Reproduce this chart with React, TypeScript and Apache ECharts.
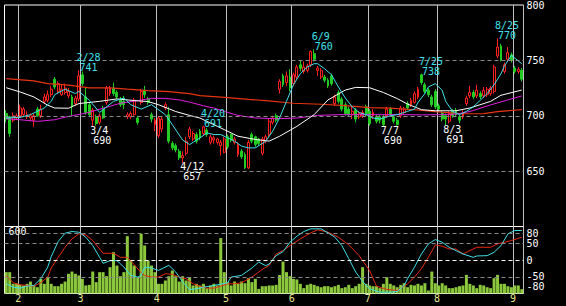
import React, { useEffect, useRef } from 'react';
import * as echarts from 'echarts';

// Trading days per month (2022, Tokyo)
const MONTH_DAYS: [number, number[]][] = [
  [1, [26, 27, 28, 31]],
  [2, [1, 2, 3, 4, 7, 8, 9, 10, 14, 15, 16, 17, 18, 21, 22, 24, 25, 28]],
  [3, [1, 2, 3, 4, 7, 8, 9, 10, 11, 14, 15, 16, 17, 18, 22, 23, 24, 25, 28, 29, 30, 31]],
  [4, [1, 4, 5, 6, 7, 8, 11, 12, 13, 14, 15, 18, 19, 20, 21, 22, 25, 26, 27, 28]],
  [5, [2, 6, 9, 10, 11, 12, 13, 16, 17, 18, 19, 20, 23, 24, 25, 26, 27, 30, 31]],
  [6, [1, 2, 3, 6, 7, 8, 9, 10, 13, 14, 15, 16, 17, 20, 21, 22, 23, 24, 27, 28, 29, 30]],
  [7, [1, 4, 5, 6, 7, 8, 11, 12, 13, 14, 15, 19, 20, 21, 22, 25, 26, 27, 28, 29]],
  [8, [1, 2, 3, 4, 5, 8, 9, 10, 12, 15, 16, 17, 18, 19, 22, 23, 24, 25, 26, 29, 30, 31]],
  [9, [1, 2, 5]],
];

// [open, close, low, high]
const CANDLES: number[][] = [
  [702, 697, 694, 705], [699, 684, 681, 700], [696, 700, 694, 703], [698, 700, 696, 702],
  [700, 707, 698, 710], [701, 706, 699, 708], [699, 701, 697, 704], [698, 700, 695, 702],
  [696, 700, 690, 702], [706, 700, 699, 708], [700, 706, 698, 710], [713, 717, 711, 720],
  [714, 719, 712, 723], [719, 724, 717, 727], [733, 726, 724, 735], [722, 729, 720, 731],
  [719, 724, 718, 728], [721, 725, 719, 729], [718, 722, 716, 725], [717, 708, 700, 719],
  [711, 716, 709, 718], [715, 736, 713, 741], [737, 729, 727, 740], [717, 703, 701, 726],
  [710, 701, 699, 712], [696, 705, 690, 707], [699, 693, 691, 701], [694, 700, 692, 702],
  [706, 698, 697, 709], [712, 725, 710, 727], [720, 725, 718, 727], [725, 720, 718, 730],
  [721, 717, 715, 723], [715, 710, 708, 717], [713, 710, 706, 718], [699, 701, 697, 703],
  [699, 702, 697, 704], [701, 714, 700, 716], [698, 694, 692, 700], [712, 722, 710, 724],
  [723, 719, 716, 727], [715, 712, 710, 717], [701, 697, 694, 703], [692, 696, 686, 698],
  [682, 698, 680, 700], [688, 697, 685, 699], [707, 710, 705, 712], [701, 677, 675, 708],
  [675, 671, 669, 677], [673, 669, 667, 675], [668, 662, 660, 670], [662, 664, 657, 668],
  [666, 677, 664, 681], [681, 688, 679, 690], [679, 684, 677, 686], [683, 677, 675, 685],
  [686, 680, 678, 688], [684, 690, 682, 691], [687, 683, 681, 689], [676, 681, 674, 683],
  [678, 680, 675, 682], [676, 679, 674, 680], [673, 676, 664, 678], [667, 679, 666, 681],
  [681, 672, 670, 683], [683, 678, 676, 684], [676, 679, 674, 681], [665, 674, 663, 676],
  [668, 663, 661, 670], [665, 653, 652, 667], [653, 676, 652, 678], [683, 677, 675, 685],
  [681, 674, 672, 682], [679, 675, 673, 680], [666, 679, 664, 681], [677, 681, 675, 683],
  [683, 695, 681, 697], [694, 698, 692, 700], [700, 696, 694, 702], [724, 731, 720, 733],
  [736, 728, 726, 738], [730, 736, 727, 740], [735, 725, 722, 742], [729, 737, 727, 739],
  [735, 744, 733, 746], [746, 743, 740, 750], [740, 744, 738, 749], [741, 745, 739, 747],
  [746, 758, 744, 759], [756, 751, 749, 760], [741, 743, 736, 745], [735, 741, 733, 743],
  [735, 732, 730, 737], [732, 727, 725, 734], [736, 729, 727, 738], [711, 717, 709, 719],
  [721, 713, 711, 723], [715, 706, 704, 717], [710, 702, 700, 712], [706, 701, 699, 708],
  [701, 704, 697, 708], [705, 697, 694, 707], [699, 702, 697, 704], [700, 703, 698, 705],
  [708, 702, 699, 710], [704, 693, 691, 706], [700, 703, 697, 706], [699, 695, 693, 701],
  [699, 696, 693, 701], [699, 692, 690, 701], [700, 706, 698, 708], [706, 701, 699, 708],
  [699, 695, 693, 700], [696, 692, 691, 698], [700, 707, 698, 709], [703, 706, 701, 708],
  [711, 707, 705, 713], [710, 714, 708, 716], [712, 720, 711, 722], [717, 724, 715, 726],
  [737, 730, 728, 738], [728, 722, 720, 730], [723, 719, 717, 725], [717, 710, 708, 719],
  [722, 708, 706, 724], [709, 706, 704, 711], [702, 697, 695, 704], [700, 697, 691, 702],
  [695, 702, 693, 704], [704, 700, 698, 706], [705, 701, 699, 707], [699, 696, 693, 701],
  [699, 703, 697, 705], [711, 716, 709, 718], [718, 721, 716, 727], [721, 717, 715, 723],
  [718, 723, 716, 728], [720, 717, 715, 722], [718, 723, 716, 726], [719, 724, 717, 726],
  [720, 725, 718, 727], [722, 744, 720, 746], [754, 762, 752, 770], [763, 750, 749, 765],
  [740, 746, 738, 748], [751, 757, 749, 762], [755, 750, 748, 757], [743, 740, 738, 745],
  [740, 742, 738, 744], [741, 733, 731, 743],
];

const VOLUME: number[] = [
  207, 207, 94, 94, 84, 78, 94, 116, 78, 61, 142, 94, 158, 94, 71, 71, 94, 116, 191, 213,
  191, 175, 142, 78, 84, 213, 110, 207, 207, 168, 255, 401, 271, 168, 207, 556, 320, 271, 158, 579,
  466, 320, 271, 207, 94, 94, 126, 168, 223, 168, 116, 168, 126, 158, 78, 94, 78, 94, 52, 78,
  94, 78, 537, 207, 110, 78, 116, 94, 116, 100, 149, 110, 142, 45, 71, 71, 78, 78, 84, 180,
  310, 207, 168, 142, 136, 94, 52, 84, 94, 84, 71, 61, 71, 71, 61, 71, 84, 52, 61, 84,
  52, 71, 94, 255, 94, 78, 71, 71, 52, 94, 158, 94, 78, 61, 84, 100, 61, 84, 78, 94,
  78, 100, 29, 213, 100, 78, 100, 78, 52, 52, 61, 71, 78, 181, 94, 78, 52, 84, 78, 61,
  52, 149, 181, 94, 94, 71, 61, 78, 78, 42,
];

// Moving averages: [day index, value]
const MA_SHORT: number[][] = [
  [0, 698], [4, 698.5], [7, 701], [11, 707], [13, 713], [14, 719], [17, 724], [20, 720], [21, 722],
  [24, 714], [27, 703], [31, 713], [34, 716], [36, 710], [39, 706], [42, 710], [46, 701], [48, 692],
  [51, 678], [53, 674], [56, 680], [58, 684.5], [60, 683], [62, 683], [64, 680], [66, 677], [68, 672.6],
  [70, 671], [72, 671], [75, 677], [77, 686], [79, 698], [81, 713], [83, 728], [85, 738], [87, 744],
  [89, 747], [90, 747], [92, 742.5], [94, 737], [96, 726], [98, 716], [100, 708], [102, 703], [104, 701],
  [106, 698], [108, 697], [111, 700], [113, 701], [116, 704], [118, 706], [119, 712], [121, 720],
  [122, 726], [124, 729], [126, 723], [127, 713], [129, 704], [131, 701], [133, 704], [135, 708],
  [137, 714], [139, 720], [141, 728], [143, 738], [144, 745], [146, 754.5], [147, 752], [149, 747],
];
const MA_MID: number[][] = [
  [0, 725.3], [4, 721.5], [8, 717], [12, 709.5], [14, 707], [18, 706.8], [21, 711], [27, 713],
  [32, 715.2], [37, 713.7], [41, 712.8], [44, 710], [49, 703.8], [53, 700.3], [56, 697.9], [63, 687.5],
  [67, 681.5], [72, 678.6], [76, 677.1], [79, 681.5], [84, 690.4], [89, 701], [93, 714.3], [98, 723.2],
  [101, 725.6], [105, 725.3], [109, 721], [113, 715.5], [116, 710.5], [120, 705.5], [124, 704.5],
  [130, 704.5], [134, 707], [140, 713], [143, 718.5], [149, 723.2],
];
const MA_LONG: number[][] = [
  [0, 697.3], [4, 696.4], [9, 694.9], [14, 696.4], [18, 699.4], [23, 702.3], [28, 706.8], [33, 711.3],
  [38, 713.7], [42, 715.7], [46, 715.7], [50, 714.3], [53, 712.3], [57, 709], [60, 707], [64, 703],
  [67, 700.3], [72, 698], [78, 697.3], [84, 697.9], [90, 700.3], [96, 701], [102, 701], [108, 701],
  [114, 701], [120, 700.8], [126, 701], [130, 701.5], [134, 703.8], [140, 709.8], [145, 714.3], [149, 717.9],
];
const MA_XLONG: number[][] = [
  [0, 733.6], [8, 731.5], [12, 729], [18, 727.6], [24, 725.2], [30, 725.2], [35, 724], [41, 722.6],
  [47, 721.7], [53, 720], [56, 718.1], [64, 716.3], [70, 714.8], [75, 713.7], [83, 711.3], [91, 710.4],
  [98, 709.2], [105, 707.4], [111, 706.8], [118, 705.4], [124, 703.8], [132, 701.8], [138, 702],
  [142, 703.8], [149, 705.5],
];

// Oscillators (lower panel)
const OSC_FAST: number[][] = [
  [0, -71], [2, -81], [4, -84], [6, -78], [8, -76], [10, -56], [12, -21], [13, 10], [15, 55], [17, 80],
  [19, 85], [21, 83], [23, 68], [25, 43], [27, 8], [28, -10], [30, -2], [32, -2], [34, -21], [36, -46],
  [38, -51], [39, -46], [40, -21], [42, -24], [44, -31], [47, -16], [49, -36], [51, -66], [53, -88],
  [55, -86], [57, -81], [59, -78], [61, -74], [64, -68], [65, -51], [68, -46], [71, -24], [73, -6],
  [75, -17], [76, -12], [78, 13], [80, 25], [82, 53], [84, 71], [86, 85], [88, 93], [91, 93], [93, 81],
  [95, 68], [97, 43], [99, 4], [101, -36], [103, -64], [105, -86], [108, -96], [111, -96], [113, -94],
  [115, -76], [116, -56], [118, -21], [120, 18], [122, 48], [124, 61], [126, 53], [128, 38], [130, 28],
  [132, 18], [135, 8], [136, 12], [139, 13], [141, 23], [143, 43], [145, 78], [147, 88], [149, 88],
];
const OSC_SLOW: number[][] = [
  [0, -46], [2, -68], [4, -74], [6, -76], [8, -78], [10, -68], [12, -51], [13, -24], [15, 8], [17, 38],
  [19, 63], [21, 78], [23, 75], [25, 58], [27, 33], [28, 20], [31, 20], [33, 8], [35, 8], [37, -14],
  [39, -38], [40, -46], [42, -51], [44, -51], [46, -41], [48, -43], [50, -51], [52, -56], [54, -71],
  [56, -78], [58, -84], [60, -84], [62, -78], [64, -71], [66, -71], [68, -68], [71, -51], [74, -28],
  [76, -16], [78, 18], [80, 28], [82, 43], [85, 63], [88, 81], [90, 90], [93, 83], [96, 68], [99, 45],
  [102, 13], [105, -31], [107, -78], [110, -88], [113, -91], [116, -71], [118, -51], [120, -26], [122, 8],
  [124, 45], [126, 41], [128, 33], [130, 33], [132, 18], [134, 28], [136, 38], [138, 38], [140, 38],
  [142, 48], [144, 53], [146, 58], [149, 68],
];

const HIGH_MARKS: [string, number][] = [['2/28', 741], ['4/20', 691], ['6/9', 760], ['7/25', 738], ['8/25', 770]];
const LOW_MARKS: [string, number][] = [['3/4', 690], ['4/12', 657], ['7/7', 690], ['8/3', 691]];

const PRICE_GRID = [650, 700, 750];
const OSC_GRID = [80, 50, -50];
const OSC_ZERO = 0;
const OSC_LABELS = [80, 50, 0, -50, -80];
const VOLUME_LABEL = 600;

const DATES: string[] = MONTH_DAYS.flatMap(([m, ds]) => ds.map((d) => `${m}/${d}`));
const MONTH_START: number[] = [];
{
  let k = 0;
  MONTH_DAYS.forEach(([, ds], i) => {
    if (i > 0) MONTH_START.push(k);
    k += ds.length;
  });
}

const MONO = '"DejaVu Sans Mono", monospace';
const CYAN = '#40e0e8';
const RED = '#ff2020';
const GREEN = '#22cc22';

export default function App() {
  const ref = useRef<HTMLDivElement>(null);
  useEffect(() => {
    if (!ref.current) return;
    const chart = echarts.init(ref.current, undefined, { renderer: 'svg' });
    const isStart = (i: number) => MONTH_START.includes(i);
    const markLabel = (color: string, high: boolean) => ({
      show: true,
      position: high ? [-2, 3] : [-2, -1],
      align: 'left',
      verticalAlign: high ? 'bottom' : 'top',
      formatter: (p: any) => `{d|${p.name}}\n{v|${p.value}}`,
      rich: {
        d: { color, fontSize: 10, fontFamily: MONO, lineHeight: 10 },
        v: { color, fontSize: 10, fontFamily: MONO, lineHeight: 10, padding: [0, 0, 0, 3] },
      },
    });
    const option: any = {
      animation: false,
      backgroundColor: '#000',
      grid: [
        { left: 4.5, top: 2.5, width: 519, height: 224, show: true, borderColor: '#fff', borderWidth: 1, backgroundColor: 'transparent' },
        { left: 4.5, top: 226.5, width: 519, height: 67, show: true, borderColor: '#fff', borderWidth: 1, backgroundColor: 'transparent' },
      ],
      xAxis: [
        {
          type: 'category', gridIndex: 0, data: DATES, boundaryGap: true,
          axisLine: { show: false }, axisTick: { show: false }, axisLabel: { show: false },
          splitLine: { show: true, interval: (i: number) => isStart(i), lineStyle: { color: '#c0c0c0', width: 1 } },
        },
        {
          type: 'category', gridIndex: 1, data: DATES, boundaryGap: true,
          axisLine: { show: false }, axisTick: { show: false },
          axisLabel: {
            show: true, interval: (i: number) => isStart(i),
            formatter: (v: string) => v.split('/')[0],
            color: '#e8e890', fontSize: 10, fontFamily: MONO, margin: 0, padding: [0, 3.5, 0, 0],
          },
          splitLine: { show: true, interval: (i: number) => isStart(i), lineStyle: { color: '#c0c0c0', width: 1 } },
        },
      ],
      yAxis: [
        {
          type: 'value', gridIndex: 0, position: 'right', min: 600, max: 800, interval: 50,
          axisLine: { show: false }, axisTick: { show: false }, splitLine: { show: false },
          axisLabel: {
            color: '#fff', fontSize: 10, fontFamily: MONO, margin: 3, verticalAlign: 'middle', padding: [4, 0, 0, 0],
            formatter: (v: number) => (v === 600 ? '' : String(v)),
          },
        },
        {
          type: 'value', gridIndex: 1, position: 'left', min: 0, max: 650, interval: 600,
          axisLine: { show: false }, axisTick: { show: false }, splitLine: { show: false },
          axisLabel: {
            inside: true, color: '#fff', fontSize: 10, fontFamily: MONO, margin: 4,
            formatter: (v: number) => (v === VOLUME_LABEL ? String(v) : ''),
          },
        },
        {
          type: 'value', gridIndex: 1, position: 'right', min: -100, max: 100, interval: 10,
          axisLine: { show: false }, axisTick: { show: false }, splitLine: { show: false },
          axisLabel: {
            color: '#fff', fontSize: 10, fontFamily: MONO, margin: 3, verticalAlign: 'middle',
            formatter: (v: number) => (OSC_LABELS.includes(v) ? String(v) : ''),
          },
        },
      ],
      series: [
        {
          type: 'line', xAxisIndex: 0, yAxisIndex: 0, data: DATES.map(() => null), z: 1, silent: true,
          symbol: 'none',
          markLine: {
            silent: true, symbol: 'none', label: { show: false },
            lineStyle: { color: '#8a8a8a', type: [4, 3], width: 1 },
            data: PRICE_GRID.map((v) => ({ yAxis: v })),
          },
        },
        {
          type: 'candlestick', xAxisIndex: 0, yAxisIndex: 0, data: CANDLES, barWidth: 2.4, z: 2,
          itemStyle: { color: '#000', color0: GREEN, borderColor: RED, borderColor0: GREEN, borderWidth: 1 },
          markPoint: {
            symbol: 'rect', symbolSize: 1, itemStyle: { color: 'transparent' }, silent: true,
            data: [
              ...HIGH_MARKS.map(([d, v]) => ({ name: d, value: v, coord: [d, v], label: markLabel(CYAN, true) })),
              ...LOW_MARKS.map(([d, v]) => ({ name: d, value: v, coord: [d, v], label: markLabel('#fff', false) })),
            ],
          },
        },
        { type: 'line', xAxisIndex: 0, yAxisIndex: 0, data: MA_XLONG, symbol: 'none', silent: true, z: 3, lineStyle: { color: '#e83410', width: 1.2 } },
        { type: 'line', xAxisIndex: 0, yAxisIndex: 0, data: MA_LONG, symbol: 'none', silent: true, z: 3, lineStyle: { color: '#e020e0', width: 1 } },
        { type: 'line', xAxisIndex: 0, yAxisIndex: 0, data: MA_MID, symbol: 'none', silent: true, z: 3, lineStyle: { color: '#ffffff', width: 1 } },
        { type: 'line', xAxisIndex: 0, yAxisIndex: 0, data: MA_SHORT, symbol: 'none', silent: true, z: 3, lineStyle: { color: CYAN, width: 1 } },
        {
          type: 'line', xAxisIndex: 1, yAxisIndex: 2, data: DATES.map(() => null), z: 1, silent: true,
          symbol: 'none',
          markLine: {
            silent: true, symbol: 'none', label: { show: false },
            lineStyle: { color: '#8a8a8a', type: [4, 3], width: 1 },
            data: [
              ...OSC_GRID.map((v) => ({ yAxis: v })),
              { yAxis: OSC_ZERO, lineStyle: { color: '#ffffff', type: [4, 3], width: 1 } },
            ],
          },
        },
        {
          type: 'bar', xAxisIndex: 1, yAxisIndex: 1, data: VOLUME, barWidth: 3, z: 2, silent: true,
          itemStyle: { color: '#8cc83c' },
        },
        { type: 'line', xAxisIndex: 1, yAxisIndex: 2, data: OSC_SLOW, symbol: 'none', silent: true, z: 3, lineStyle: { color: '#e82a10', width: 1 } },
        { type: 'line', xAxisIndex: 1, yAxisIndex: 2, data: OSC_FAST, symbol: 'none', silent: true, z: 3, lineStyle: { color: CYAN, width: 1 } },
      ],
    };
    chart.setOption(option);
    return () => chart.dispose();
  }, []);
  return (
    <div
      ref={ref}
      style={{ position: 'fixed', left: 0, top: 0, width: 566, height: 306, background: '#000' }}
    />
  );
}
